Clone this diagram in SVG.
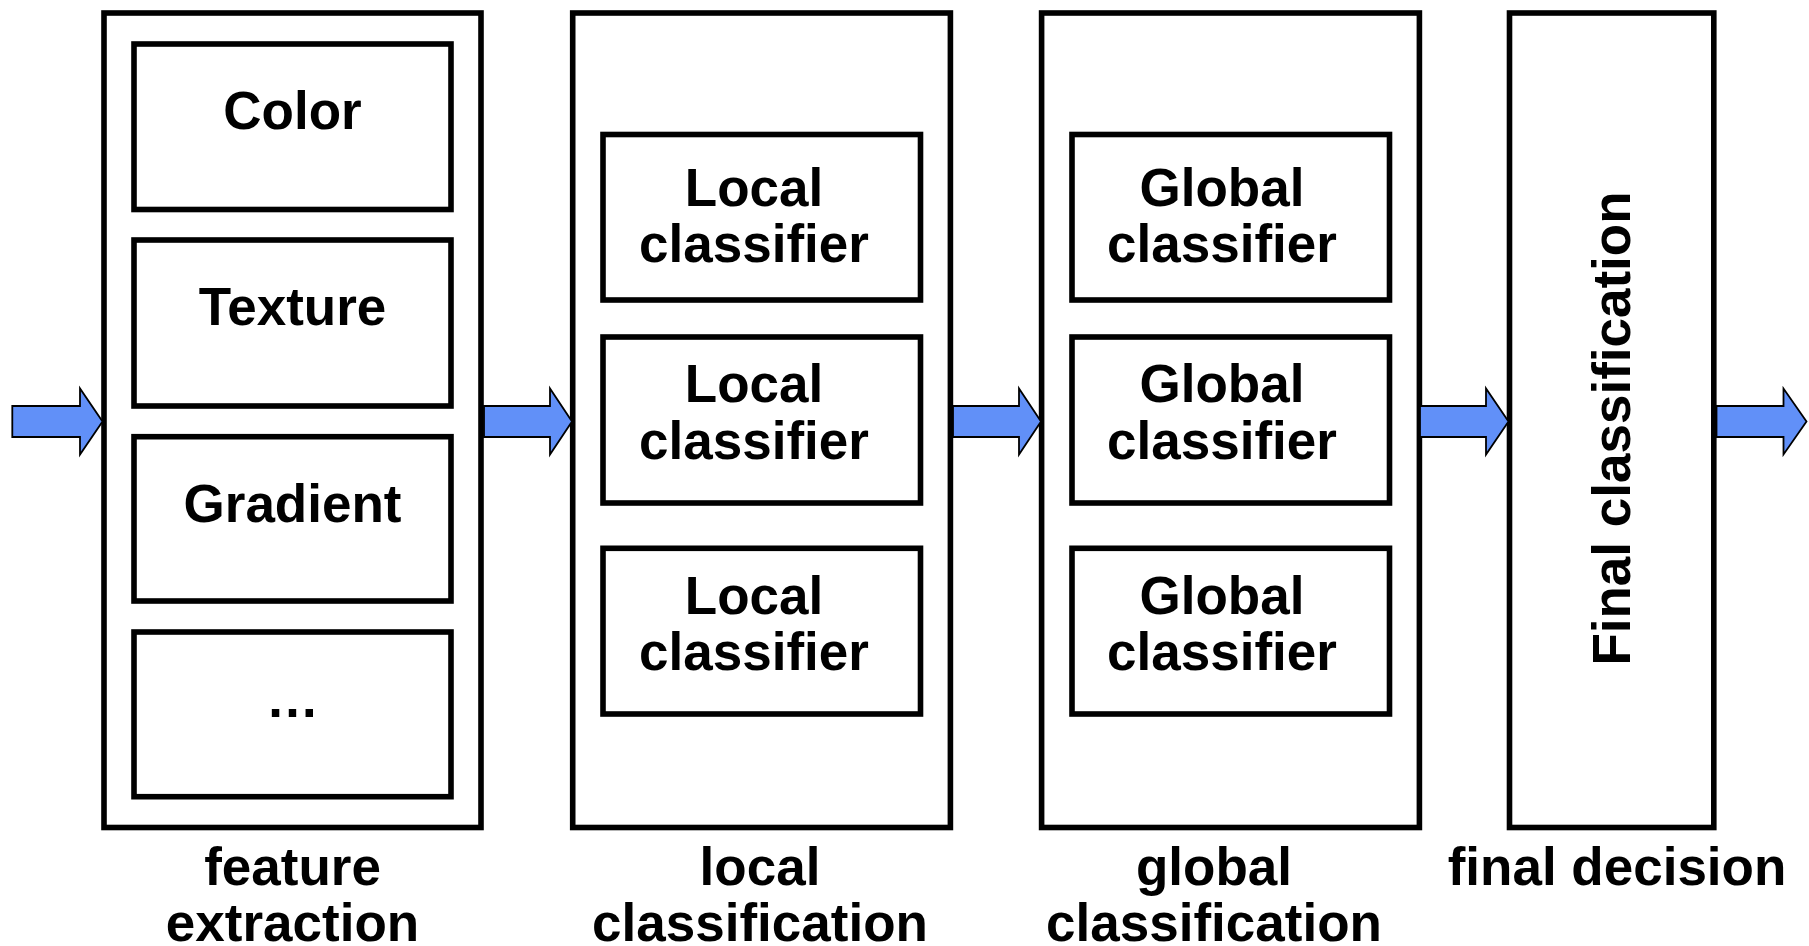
<svg xmlns="http://www.w3.org/2000/svg" width="1809" height="946" viewBox="0 0 1809 946">
<style>
.box{fill:#fff;stroke:#000;stroke-width:5.6}
.t{font-family:"Liberation Sans",Arial,sans-serif;font-weight:bold;font-size:53px;fill:#000;text-anchor:middle}
.arr{fill:#6190f8;stroke:#000;stroke-width:1.8;stroke-linejoin:miter}
</style>
<rect width="1809" height="946" fill="#fff"/>
<g id="feature-extraction">
<rect class="box" x="104" y="13" width="377" height="814.5"/>
<g id="color"><rect class="box" x="134" y="44" width="317" height="165.5"/><text class="t" x="292.5" y="128.5">Color</text></g>
<g id="texture"><rect class="box" x="134" y="240" width="317" height="166"/><text class="t" x="292.5" y="325">Texture</text></g>
<g id="gradient"><rect class="box" x="134" y="436.7" width="317" height="164.3"/><text class="t" x="292.5" y="521.7">Gradient</text></g>
<g id="more"><rect class="box" x="134" y="632" width="317" height="164.7"/><text class="t" x="292.5" y="716.7">…</text></g>
<text class="t" x="292.5" y="885">feature</text>
<text class="t" x="292.5" y="941">extraction</text>
</g>
<g id="local-classification">
<rect class="box" x="572.7" y="13" width="377.7" height="814.5"/>
<g id="local1"><rect class="box" x="603" y="134.5" width="317.5" height="165.5"/><text class="t" x="754" y="205.5">Local</text><text class="t" x="754" y="262">classifier</text></g>
<g id="local2"><rect class="box" x="603" y="337" width="317.5" height="166"/><text class="t" x="754" y="402">Local</text><text class="t" x="754" y="458.5">classifier</text></g>
<g id="local3"><rect class="box" x="603" y="548.3" width="317.5" height="165.7"/><text class="t" x="754" y="613.5">Local</text><text class="t" x="754" y="670">classifier</text></g>
<text class="t" x="760" y="885">local</text>
<text class="t" x="760" y="941">classification</text>
</g>
<g id="global-classification">
<rect class="box" x="1041.6" y="13" width="377.8" height="814.5"/>
<g id="global1"><rect class="box" x="1072" y="134.5" width="317.5" height="165.5"/><text class="t" x="1222" y="205.5">Global</text><text class="t" x="1222" y="262">classifier</text></g>
<g id="global2"><rect class="box" x="1072" y="337" width="317.5" height="166"/><text class="t" x="1222" y="402">Global</text><text class="t" x="1222" y="458.5">classifier</text></g>
<g id="global3"><rect class="box" x="1072" y="548.3" width="317.5" height="165.7"/><text class="t" x="1222" y="613.5">Global</text><text class="t" x="1222" y="670">classifier</text></g>
<text class="t" x="1214" y="885">global</text>
<text class="t" x="1214" y="941">classification</text>
</g>
<g id="final-decision">
<rect class="box" x="1509.5" y="13" width="204.3" height="814.5"/>
<text class="t" transform="translate(1630,428.5) rotate(-90)">Final classification</text>
<text class="t" x="1617" y="885">final decision</text>
</g>
<g id="connectors">
<path class="arr" d="M12.3,406 H80 V388.5 L102.5,421.5 L80,454.5 V437 H12.3 Z"/>
<path class="arr" d="M484,406 H550 V388.5 L572,421.5 L550,454.5 V437 H484 Z"/>
<path class="arr" d="M953,406 H1019 V388.5 L1041,421.5 L1019,454.5 V437 H953 Z"/>
<path class="arr" d="M1420,406 H1486 V388.5 L1508.5,421.5 L1486,454.5 V437 H1420 Z"/>
<path class="arr" d="M1716.5,406 H1783.5 V388.5 L1806.5,421.5 L1783.5,454.5 V437 H1716.5 Z"/>
</g>
</svg>
